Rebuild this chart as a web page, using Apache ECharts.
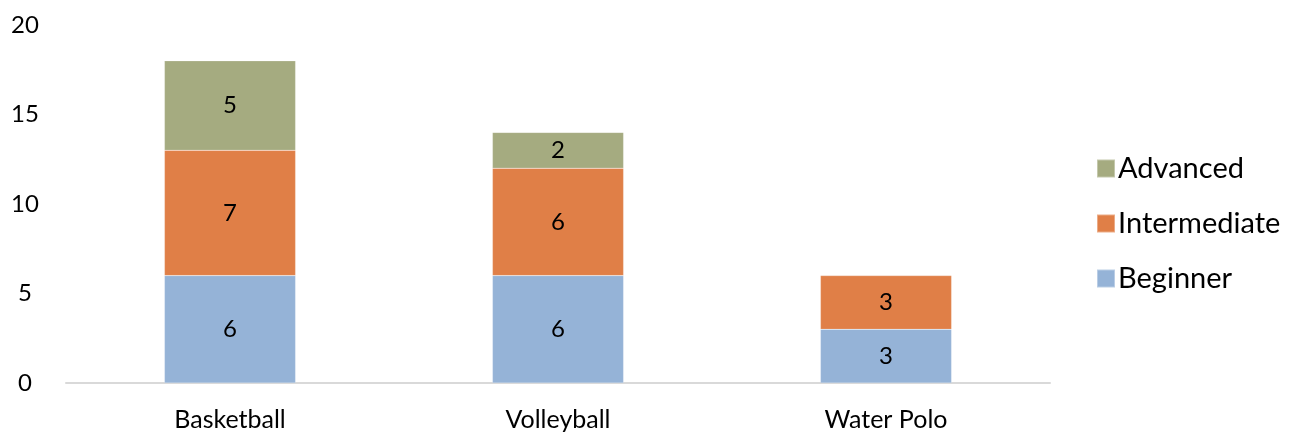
<!DOCTYPE html>
<html><head><meta charset="utf-8">
<script src="https://cdn.jsdelivr.net/npm/echarts@6/dist/echarts.min.js"></script>
<style>html,body{margin:0;padding:0;background:#fff}#c{width:1302px;height:435px}</style>
</head><body><div id="c"></div>
<script>
const categories = ['Basketball', 'Volleyball', 'Water Polo'];
const beginner = [6, 6, 3];
const intermediate = [7, 6, 3];
const advanced = [5, 2, null];
const yTicks = { min: 0, max: 20, interval: 5 };

const FONT = 'Lato';
const chart = echarts.init(document.getElementById('c'));
const lbl = { show: true, position: 'inside', color: '#000', fontFamily: FONT, fontSize: 24 };
function s(name, data, color) {
  return { name, type: 'bar', stack: 'a', data, barWidth: '40%',
    itemStyle: { color, borderColor: 'rgba(255,255,255,0.35)', borderWidth: 0.5 },
    label: lbl, emphasis: { disabled: true } };
}
chart.setOption({
  animation: false,
  grid: { left: 66, right: 252, top: 25, bottom: 52 },
  legend: {
    orient: 'vertical', left: 1091, top: 149, itemWidth: 18, itemHeight: 18, itemGap: 26,
    icon: 'rect', textStyle: { fontFamily: FONT, fontSize: 29, color: '#000', padding: [0,0,0,-2] },
    data: ['Advanced', 'Intermediate', 'Beginner']
  },
  xAxis: { type: 'category', data: categories,
    axisLine: { lineStyle: { color: '#D9D9D9', width: 2 } }, axisTick: { show: false },
    axisLabel: { color: '#000', fontFamily: FONT, fontSize: 25, margin: 24 } },
  yAxis: { type: 'value', min: yTicks.min, max: yTicks.max, interval: yTicks.interval,
    splitLine: { show: false }, axisLine: { show: false }, axisTick: { show: false },
    axisLabel: { color: '#000', fontFamily: FONT, fontSize: 24, margin: 41, align: 'center', verticalAlign: 'middle', padding: [0,0,4,0] } },
  series: [
    s('Beginner', beginner, '#95B3D7'),
    s('Intermediate', intermediate, '#E07F47'),
    s('Advanced', advanced, '#A5AB80')
  ]
});
</script></body></html>
